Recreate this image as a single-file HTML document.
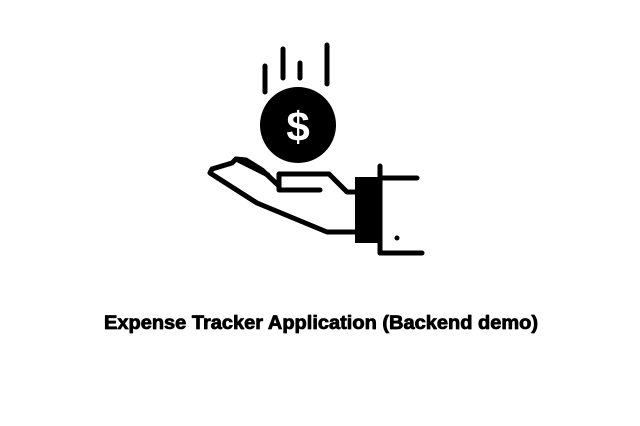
<!DOCTYPE html>
<html><head><style>
html,body{margin:0;padding:0;background:#fff;}
svg{display:block;}
</style></head><body>
<svg width="640" height="426" viewBox="0 0 640 426" xmlns="http://www.w3.org/2000/svg">
<rect width="640" height="426" fill="#fff"/>
<g stroke="#000" stroke-width="5" stroke-linecap="round" fill="none">
<line x1="265" y1="66" x2="265" y2="92"/>
<line x1="283" y1="49" x2="283" y2="78"/>
<line x1="300" y1="63" x2="300" y2="78"/>
<line x1="327" y1="45" x2="327" y2="84"/>
</g>
<circle cx="298" cy="125" r="38" fill="#000"/>
<text x="298" y="141" font-family="Liberation Sans, sans-serif" font-size="42" font-weight="bold" fill="#fff" text-anchor="middle">$</text>
<g stroke="#000" stroke-width="5" stroke-linecap="round" stroke-linejoin="round" fill="none">
<path d="M355 192 L347 192 L329 174 L279 174 L279 190 L320 190"/>
<path d="M279 186 L262 170 L246 160 L236 159 L232 163 L212 169 L210 173 L257 203 L327 232 L355 232"/>
<path d="M236 159 L268 175"/>
<line x1="380" y1="166" x2="380" y2="253"/>
<line x1="380" y1="178" x2="417" y2="178"/>
<line x1="380" y1="253" x2="422" y2="253"/>
</g>
<rect x="355" y="177" width="24" height="66" fill="#000"/>
<circle cx="397" cy="238" r="2.5" fill="#000"/>
<text x="104" y="329" textLength="434" lengthAdjust="spacingAndGlyphs" font-family="Liberation Sans, sans-serif" font-size="19" font-weight="bold" fill="#000" stroke="#000" stroke-width="0.8" stroke-linejoin="round">Expense Tracker Application (Backend demo)</text>
</svg>
</body></html>
